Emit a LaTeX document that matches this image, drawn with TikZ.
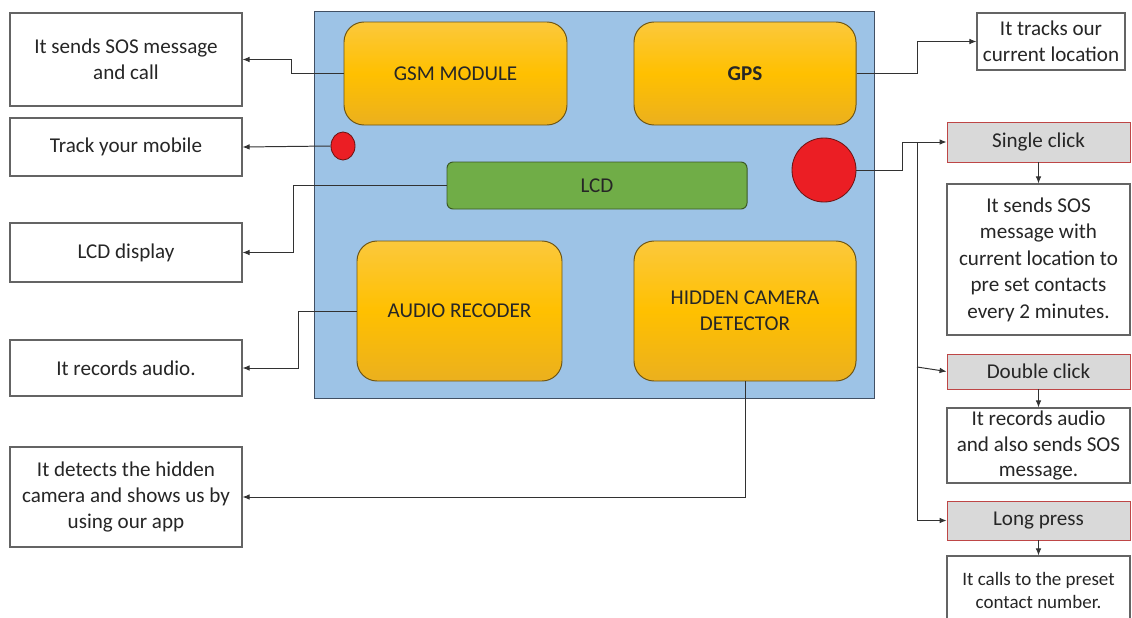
\documentclass[tikz,border=0pt]{standalone}
\usepackage{fontspec}
\setmainfont{Carlito}
\usetikzlibrary{positioning}
\usetikzlibrary{arrows.meta}
\usetikzlibrary{shapes.geometric}
\definecolor{board}{RGB}{157,195,230}
\definecolor{boardline}{RGB}{65,80,100}
\definecolor{goldtop}{RGB}{251,200,60}
\definecolor{goldmid}{RGB}{255,192,0}
\definecolor{goldbot}{RGB}{235,176,30}
\definecolor{goldline}{RGB}{110,85,20}
\definecolor{lcdgreen}{RGB}{112,173,71}
\definecolor{lcdline}{RGB}{60,90,35}
\definecolor{btnred}{RGB}{235,30,36}
\definecolor{btnline}{RGB}{110,20,20}
\definecolor{clickfill}{RGB}{217,217,217}
\definecolor{clickline}{RGB}{190,70,70}
\definecolor{boxline}{RGB}{100,100,100}
\definecolor{wire}{RGB}{50,50,50}
\newcommand{\pxu}{0.025cm}
\tikzset{
  sz/.style 2 args={minimum width=#1*\pxu, minimum height=#2*\pxu, inner sep=0pt},
  txt/.style={font=\fontsize{15}{18.8}\selectfont, align=center, text=black!85},
  note/.style={txt, draw=boxline, line width=0.8pt, fill=white},
  part/.style={txt, draw=goldline, line width=0.7pt, rounded corners=0.5cm,
    top color=goldtop, bottom color=goldbot, middle color=goldmid},
  click/.style={txt, draw=clickline, line width=0.6pt, fill=clickfill},
  wirearrow/.style={draw=wire, line width=0.7pt, -{Latex[length=5pt,width=4pt]}},
}
\begin{document}
\begin{tikzpicture}[x=0.025cm, y=-0.025cm]
    \useasboundingbox (0,0) rectangle (1132,618);

    % the device
    \node[draw=boardline, fill=board, line width=0.6pt, sz={560}{387}] (board) at (594,204.5) {};
    \node[part, sz={223}{103}] (gsm) at (455.5,73.5) {GSM MODULE};
    \node[part, sz={222}{103}, font=\fontsize{15}{18.8}\selectfont\bfseries] (gps) at (745,73.5) {GPS};
    \node[part, sz={205}{140}] (audio) at (459.5,311) {AUDIO RECODER};
    \node[part, sz={222}{140}] (hcd) at (745,311) {HIDDEN CAMERA\\DETECTOR};
    \node[txt, draw=lcdline, line width=0.7pt, fill=lcdgreen, rounded corners=0.15cm, sz={300}{47}] (lcd) at (597,185.5) {LCD};
    \node[ellipse, draw=btnline, fill=btnred, line width=0.6pt, sz={24}{28}] (dot) at (343,146) {};
    \node[circle, draw=btnline, fill=btnred, line width=0.6pt, minimum size=64*\pxu, inner sep=0pt] (btn) at (824,170) {};

    % left notes
    \node[note, sz={232}{93}] (sosnote) at (126,59.5) {It sends SOS message\\and call};
    \node[note, sz={232}{58}] (tracknote) at (126,147) {Track your mobile};
    \node[note, sz={232}{59}] (lcdnote) at (126,252.5) {LCD display};
    \node[note, sz={232}{56}] (audionote) at (126,368) {It records audio.};
    \node[note, sz={232}{100}] (camnote) at (126,497) {It detects the hidden\\camera and shows us by\\using our app};

    % right notes
    \node[note, sz={148}{57}] (gpsnote) at (1051,41.5) {It tracks our\\current location};
    \node[click, sz={183}{40}] (single) at (1038.5,142) {Single click};
    \node[note, sz={183}{151}] (singlenote) at (1038.5,259.5) {It sends SOS\\message with\\current location to\\pre set contacts\\every 2 minutes.};
    \node[click, sz={183}{35}] (double) at (1038.5,371.5) {Double click};
    \node[note, sz={183}{75}, font=\fontsize{15}{17.8}\selectfont] (doublenote) at (1038.5,445.5) {It records audio\\and also sends SOS\\message.};
    \node[click, sz={183}{39}] (long) at (1038.5,520.5) {Long press};
    \node[note, sz={183}{69}, font=\fontsize{13.5}{17}\selectfont] (longnote) at (1038.5,590.5) {It calls to the preset\\contact number.};

    % connectors
    \draw[wirearrow] (gsm.west) -- ++(-52,0) |- (sosnote.east);
    \draw[wirearrow] (dot.west) -- (tracknote.east);
    \draw[wirearrow] (lcd.west) -- ++(-153,0) |- (lcdnote.east);
    \draw[wirearrow] (audio.west) -- ++(-58,0) |- (audionote.east);
    \draw[wirearrow] (hcd.south) |- (camnote.east);
    \draw[wirearrow] (gps.east) -- ++(61,0) |- (gpsnote.west);
    \draw[wirearrow] (btn.east) -- ++(46,0) |- (single.west);
    \coordinate (fork) at (917,142);
    \coordinate (tap) at (917,367);
    \draw[wirearrow] (fork) |- (long.west);
    \draw[wirearrow] (tap) -- (double.west);
    \foreach \a/\b in {single/singlenote, double/doublenote, long/longnote} {
        \draw[wirearrow] (\a.south) -- (\b.north);
    }
\end{tikzpicture}
\end{document}
